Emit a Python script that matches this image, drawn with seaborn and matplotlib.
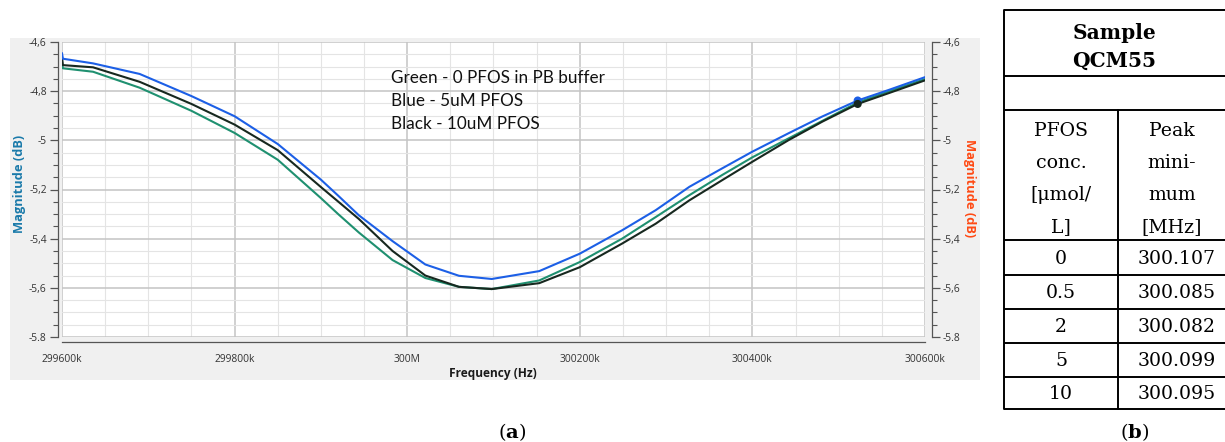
import numpy as np
import pandas as pd
import matplotlib
matplotlib.use("Agg")
import matplotlib.pyplot as plt
from matplotlib.patches import Rectangle
from matplotlib.ticker import MultipleLocator, FixedLocator, FixedFormatter
import seaborn as sns

# ---------------- data ----------------
freq_khz = [299600, 299601, 299636, 299690, 299750, 299800, 299850, 299900, 299920,
            299944, 299983, 300021, 300060, 300098, 300153, 300200, 300249, 300288,
            300327, 300365, 300400, 300442, 300481, 300522, 300558, 300600]
blue_5uM = [-4.645, -4.668, -4.687, -4.730, -4.820, -4.902, -5.015, -5.160, -5.225,
            -5.305, -5.410, -5.505, -5.551, -5.564, -5.532, -5.461, -5.366, -5.284,
            -5.189, -5.114, -5.046, -4.971, -4.903, -4.838, -4.795, -4.743]
black_10uM = [-4.660, -4.694, -4.703, -4.762, -4.852, -4.936, -5.040, -5.190, -5.249,
              -5.320, -5.450, -5.550, -5.596, -5.605, -5.581, -5.516, -5.420, -5.339,
              -5.244, -5.162, -5.087, -4.999, -4.924, -4.852, -4.808, -4.756]
green_0 = [-4.680, -4.707, -4.721, -4.786, -4.880, -4.970, -5.079, -5.235, -5.300,
           -5.375, -5.487, -5.560, -5.596, -5.605, -5.570, -5.495, -5.400, -5.312,
           -5.223, -5.141, -5.069, -4.992, -4.921, -4.846, -4.801, -4.751]

marker_freq = [300522, 300522]
marker_mag = [-4.838, -4.852]
marker_series = ["Blue", "Black"]

series_names = ["Green", "Black", "Blue"]
series_colors = {"Green": "#1f9070", "Black": "#17281f", "Blue": "#1c5fe6"}

xtick_vals = [299600, 299800, 300000, 300200, 300400, 300600]
xtick_labels = ["299600k", "299800k", "300M", "300200k", "300400k", "300600k"]
ytick_vals = [-4.6, -4.8, -5.0, -5.2, -5.4, -5.6, -5.8]
ytick_labels = ["-4,6", "-4,8", "-5", "-5,2", "-5,4", "-5,6", "-5.8"]

legend_lines = ["Green - 0 PFOS in PB buffer", "Blue - 5uM PFOS", "Black - 10uM PFOS"]

table_title = ["Sample", "QCM55"]
col1_header = ["PFOS", "conc.", "[\u03bcmol/", "L]"]
col2_header = ["Peak", "mini-", "mum", "[MHz]"]
pfos_conc = ["0", "0.5", "2", "5", "10"]
peak_min = ["300.107", "300.085", "300.082", "300.099", "300.095"]

# ---------------- figure ----------------
sns.set_style("white")
plt.rcParams["font.family"] = ["Open Sans", "DejaVu Sans"]
plt.rcParams["mathtext.fontset"] = "dejavuserif"
plt.rcParams["text.color"] = "black"

W, H = 1225, 442
fig = plt.figure(figsize=(W / 100, H / 100), dpi=100)
fig.patch.set_facecolor("white")

def fx(px):
    return px / W

def fy(py):
    return 1 - py / H

# grey panel behind chart (a)
fig.patches.append(Rectangle((fx(10), fy(380)), fx(970), 342 / H, transform=fig.transFigure,
                             facecolor="#f0f0f0", edgecolor="none", zorder=-10))

ax = fig.add_axes([fx(62), fy(337), fx(863), 295 / H])
ax.set_facecolor("white")

df = pd.DataFrame({
    "freq": freq_khz * 3,
    "mag": green_0 + black_10uM + blue_5uM,
    "series": ["Green"] * len(freq_khz) + ["Black"] * len(freq_khz) + ["Blue"] * len(freq_khz),
})
sns.lineplot(data=df, x="freq", y="mag", hue="series", hue_order=series_names,
             palette=series_colors, linewidth=1.5, legend=False, errorbar=None,
             estimator=None, ax=ax, zorder=3)
mdf = pd.DataFrame({"freq": marker_freq, "mag": marker_mag, "series": marker_series})
sns.scatterplot(data=mdf, x="freq", y="mag", hue="series", palette=series_colors,
                s=34, edgecolor="none", legend=False, ax=ax, zorder=4)

ax.set_xlim(299600, 300600)
ax.set_ylim(-5.8, -4.6)
ax.xaxis.set_major_locator(FixedLocator(xtick_vals))
ax.xaxis.set_major_formatter(FixedFormatter(xtick_labels))
ax.xaxis.set_minor_locator(MultipleLocator(50))
ax.yaxis.set_major_locator(FixedLocator(ytick_vals))
ax.yaxis.set_major_formatter(FixedFormatter(ytick_labels))
ax.yaxis.set_minor_locator(MultipleLocator(0.05))

ax.grid(which="major", color="#c4c4c4", linewidth=1.1, zorder=1)
ax.grid(which="minor", color="#e4e4e4", linewidth=0.8, zorder=1)
ax.set_axisbelow(True)

for s in ["top", "right"]:
    ax.spines[s].set_visible(False)
ax.spines["left"].set_position(("outward", 3))
ax.spines["bottom"].set_position(("outward", 3.6))
for s in ["left", "bottom"]:
    ax.spines[s].set_color("#555555")
    ax.spines[s].set_linewidth(0.9)

ax.tick_params(axis="y", which="major", direction="out", length=6, width=0.9,
               color="#555555", labelsize=7.4, labelcolor="#333333", pad=2)
ax.tick_params(axis="y", which="minor", direction="out", length=3.5, width=0.8, color="#555555")
ax.tick_params(axis="x", which="major", direction="out", length=4.5, width=0.9,
               color="#555555", labelsize=7.4, labelcolor="#333333", pad=4)
ax.tick_params(axis="x", which="minor", direction="out", length=2.5, width=0.8, color="#555555")
ax.set_xlabel("")
ax.set_ylabel("")

ax2 = ax.twinx()
ax2.set_ylim(-5.8, -4.6)
ax2.yaxis.set_major_locator(FixedLocator(ytick_vals))
ax2.yaxis.set_major_formatter(FixedFormatter(ytick_labels))
ax2.yaxis.set_minor_locator(MultipleLocator(0.05))
for s in ["top", "left", "bottom"]:
    ax2.spines[s].set_visible(False)
ax2.spines["right"].set_position(("outward", 5))
ax2.spines["right"].set_color("#555555")
ax2.spines["right"].set_linewidth(0.9)
ax2.tick_params(axis="y", which="major", direction="out", length=6, width=0.9,
                color="#555555", labelsize=7.4, labelcolor="#333333", pad=2)
ax2.tick_params(axis="y", which="minor", direction="out", length=3.5, width=0.8, color="#555555")
ax2.grid(False)

# axis titles
fig.text(fx(20), fy(184), "Magnitude (dB)", rotation=90, ha="center", va="center",
         fontsize=9.3, fontweight="bold", color="#1a7aaa")
fig.text(fx(970), fy(188), "Magnitude (dB)", rotation=270, ha="center", va="center",
         fontsize=9.3, fontweight="bold", color="#ff4a14")
fig.text(fx(493), fy(373), "Frequency (Hz)", ha="center", va="center",
         fontsize=8.6, fontweight="bold", color="#1a1a1a")

# annotation text
for i, line in enumerate(legend_lines):
    fig.text(fx(391), fy(83 + 23 * i), line, ha="left", va="baseline",
             fontsize=12.3, family=["Lato", "DejaVu Sans"], color="#111111")

# panel captions
fig.text(fx(512), fy(432), r"(${\bf a}$)", ha="center", va="center", fontsize=14,
         family=["DejaVu Serif"], color="black")
fig.text(fx(1135), fy(432), r"(${\bf b}$)", ha="center", va="center", fontsize=14,
         family=["DejaVu Serif"], color="black")

# ---------------- table (b) ----------------
tax = fig.add_axes([fx(1000), 0, fx(225), 1])
tax.set_xlim(1000, 1225)
tax.set_ylim(H, 0)
tax.axis("off")
lw = 1.4
row_edges = [10, 76, 110, 240, 275, 309, 343, 377, 409]
for yv in row_edges:
    tax.plot([1004, 1230], [yv, yv], color="black", lw=lw, solid_capstyle="butt", clip_on=False)
tax.plot([1004, 1004], [10, 409], color="black", lw=lw, clip_on=False)
tax.plot([1118, 1118], [110, 409], color="black", lw=lw, clip_on=False)

serif = ["DejaVu Serif"]
tfs = 13.6
for i, t in enumerate(table_title):
    tax.text(1114, 33 + 28 * i, t, ha="center", va="center", fontsize=14.5,
             fontweight="bold", family=serif, color="black")
for i, t in enumerate(col1_header):
    tax.text(1061, 131 + 32 * i, t, ha="center", va="center", fontsize=tfs, family=serif,
             color="black")
for i, t in enumerate(col2_header):
    tax.text(1172, 131 + 32 * i, t, ha="center", va="center", fontsize=tfs, family=serif,
             color="black")
for i, (c, p) in enumerate(zip(pfos_conc, peak_min)):
    yc = (row_edges[3 + i] + row_edges[4 + i]) / 2 + 1
    tax.text(1061, yc, c, ha="center", va="center", fontsize=tfs, family=serif, color="black")
    tax.text(1177, yc, p, ha="center", va="center", fontsize=tfs, family=serif, color="black")

fig.savefig("out.png", dpi=100)
